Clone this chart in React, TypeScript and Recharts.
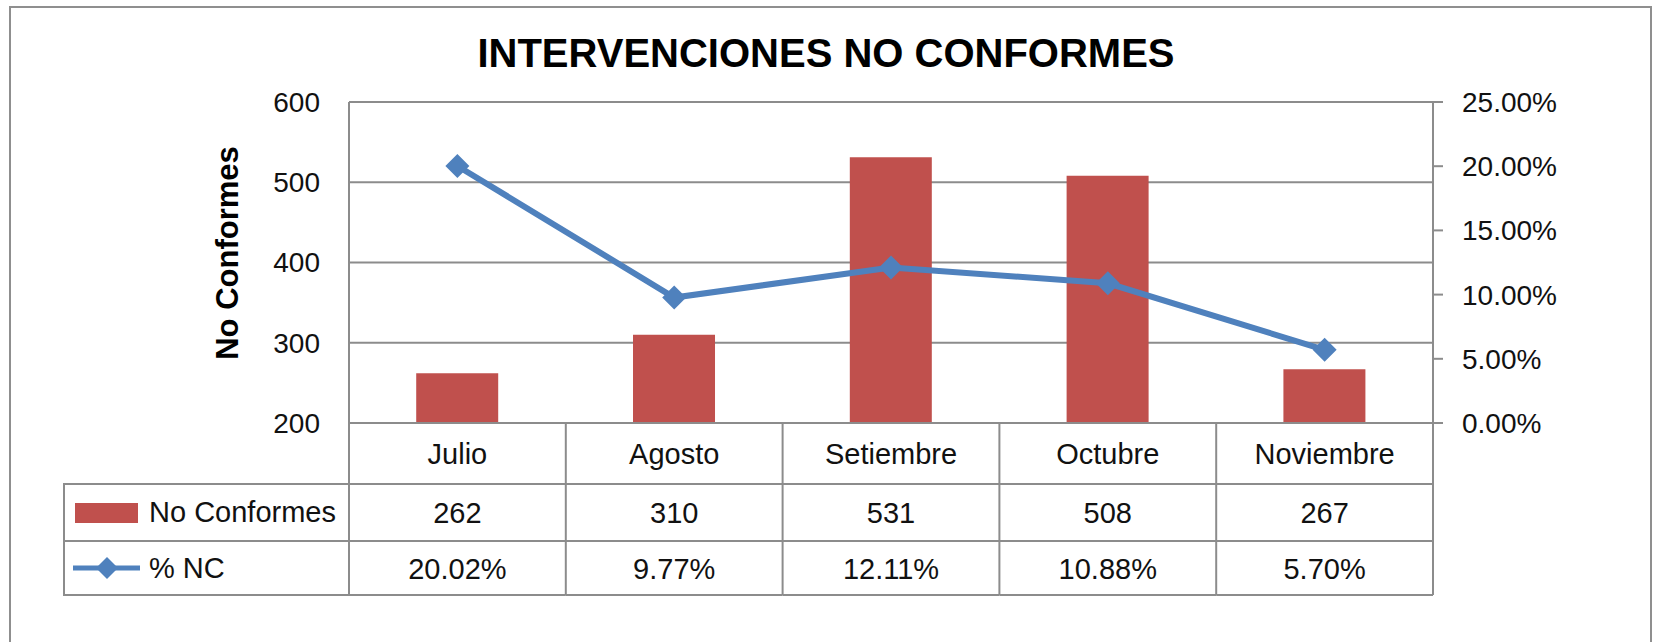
import { ComposedChart, Bar, Line, XAxis, YAxis, CartesianGrid, Legend } from 'recharts';

const months = ['Julio', 'Agosto', 'Setiembre', 'Octubre', 'Noviembre'];
const noConformes = [262, 310, 531, 508, 267];
const pctNC = [0.2002, 0.0977, 0.1211, 0.1088, 0.057];
const leftTicks = [200, 300, 400, 500, 600];
const rightTicks = [0, 0.05, 0.1, 0.15, 0.2, 0.25];

const data = months.map((month, i) => ({ month, nc: noConformes[i], pct: pctNC[i] }));

const W = 1656;
const H = 642;
const margin = { top: 102, right: 93, bottom: 19, left: 269 };
const LEFT_AXIS_W = 80;
const RIGHT_AXIS_W = 130;
const X_AXIS_H = 200;
const bandWidth = (W - margin.left - margin.right - LEFT_AXIS_W - RIGHT_AXIS_W) / months.length;

const GRID = '#8c8c8c';
const BAR = '#c0504d';
const LINE = '#4f81bd';
const FONT = '"Liberation Sans", Arial, sans-serif';
const TEXT = '#111';

const fmtPct = (v: number) => (v * 100).toFixed(2) + '%';

// table rows under the plot: category row, value row, percent row
const rowLines = [61, 118, 172];

const TableTick = ({ x, y, payload, index }: any) => {
  const l = x - bandWidth / 2;
  const r = x + bandWidth / 2;
  const last = index === months.length - 1;
  const txt = { textAnchor: 'middle' as const, dominantBaseline: 'central' as const, fontFamily: FONT, fontSize: 29, fill: TEXT };
  return (
    <g>
      <line x1={l} y1={y} x2={l} y2={y + rowLines[2]} stroke={GRID} strokeWidth={2} />
      {last && <line x1={r} y1={y} x2={r} y2={y + rowLines[2]} stroke={GRID} strokeWidth={2} />}
      {rowLines.map((dy) => (
        <line key={dy} x1={l} y1={y + dy} x2={r} y2={y + dy} stroke={GRID} strokeWidth={2} />
      ))}
      <text x={x} y={y + 31} {...txt}>{payload.value}</text>
      <text x={x} y={y + 90} {...txt}>{noConformes[index]}</text>
      <text x={x} y={y + 146} {...txt}>{fmtPct(pctNC[index])}</text>
    </g>
  );
};

const Diamond = ({ cx, cy }: any) => (
  <polygon points={`${cx},${cy - 12} ${cx + 12},${cy} ${cx},${cy + 12} ${cx - 12},${cy}`} fill={LINE} />
);

const TableLegend = () => (
  <div
    style={{
      width: 287,
      height: 113,
      boxSizing: 'border-box',
      borderTop: `2px solid ${GRID}`,
      borderLeft: `2px solid ${GRID}`,
      borderBottom: `2px solid ${GRID}`,
      fontFamily: FONT,
      fontSize: 29,
      color: TEXT,
    }}
  >
    <div style={{ height: 55, borderBottom: `2px solid ${GRID}`, display: 'flex', alignItems: 'center' }}>
      <span style={{ display: 'inline-block', width: 63, height: 20, background: BAR, marginLeft: 10, marginRight: 11 }} />
      No Conformes
    </div>
    <div style={{ height: 52, display: 'flex', alignItems: 'center' }}>
      <svg width={67} height={26} style={{ marginLeft: 8, marginRight: 9 }}>
        <line x1={0} y1={13} x2={67} y2={13} stroke={LINE} strokeWidth={5} />
        <polygon points="34,2 45,13 34,24 23,13" fill={LINE} />
      </svg>
      % NC
    </div>
  </div>
);

export default function App() {
  return (
    <div style={{ position: 'absolute', left: 0, top: 0, width: W, height: H, overflow: 'hidden', background: '#fff' }}>
      <div
        style={{
          position: 'absolute',
          left: 9,
          top: 6,
          width: 1643,
          height: 800,
          boxSizing: 'border-box',
          border: '2px solid #8f8f8f',
        }}
      />
      <ComposedChart width={W} height={H} data={data} margin={margin} barCategoryGap="31%">
        <CartesianGrid yAxisId="left" vertical={false} stroke={GRID} strokeWidth={2} />
        <XAxis
          dataKey="month"
          height={X_AXIS_H}
          interval={0}
          tickSize={0}
          tickMargin={0}
          axisLine={{ stroke: GRID, strokeWidth: 2 }}
          tick={(p: any) => <TableTick {...p} />}
        />
        <YAxis
          yAxisId="left"
          orientation="left"
          width={LEFT_AXIS_W}
          domain={[200, 600]}
          ticks={leftTicks}
          allowDataOverflow
          tickLine={false}
          tickSize={0}
          tickMargin={29}
          axisLine={{ stroke: GRID, strokeWidth: 2 }}
          tick={{ fill: TEXT, fontSize: 28, fontFamily: FONT }}
        />
        <YAxis
          yAxisId="right"
          orientation="right"
          width={RIGHT_AXIS_W}
          domain={[0, 0.25]}
          ticks={rightTicks}
          tickFormatter={fmtPct}
          tickSize={10}
          tickMargin={19}
          tickLine={{ stroke: GRID, strokeWidth: 2 }}
          axisLine={{ stroke: GRID, strokeWidth: 2 }}
          tick={{ fill: TEXT, fontSize: 28, fontFamily: FONT }}
        />
        <Legend
          layout="vertical"
          align="center"
          verticalAlign="middle"
          content={() => <TableLegend />}
          wrapperStyle={{ left: 63, top: 483, width: 287, height: 113 }}
        />
        <Bar yAxisId="left" dataKey="nc" name="No Conformes" fill={BAR} isAnimationActive={false} />
        <Line
          yAxisId="right"
          type="linear"
          dataKey="pct"
          name="% NC"
          stroke={LINE}
          strokeWidth={6}
          dot={<Diamond />}
          activeDot={false}
          isAnimationActive={false}
        />
      </ComposedChart>
      <div
        style={{
          position: 'absolute',
          left: -2,
          top: 33,
          width: W,
          textAlign: 'center',
          fontFamily: FONT,
          fontWeight: 'bold',
          fontSize: 40,
          lineHeight: '40px',
          color: '#000',
        }}
      >
        INTERVENCIONES NO CONFORMES
      </div>
      <div
        style={{
          position: 'absolute',
          left: 228,
          top: 253,
          transform: 'translate(-50%, -50%) rotate(-90deg)',
          fontFamily: FONT,
          fontWeight: 'bold',
          fontSize: 31,
          whiteSpace: 'nowrap',
          color: '#000',
        }}
      >
        No Conformes
      </div>
    </div>
  );
}
